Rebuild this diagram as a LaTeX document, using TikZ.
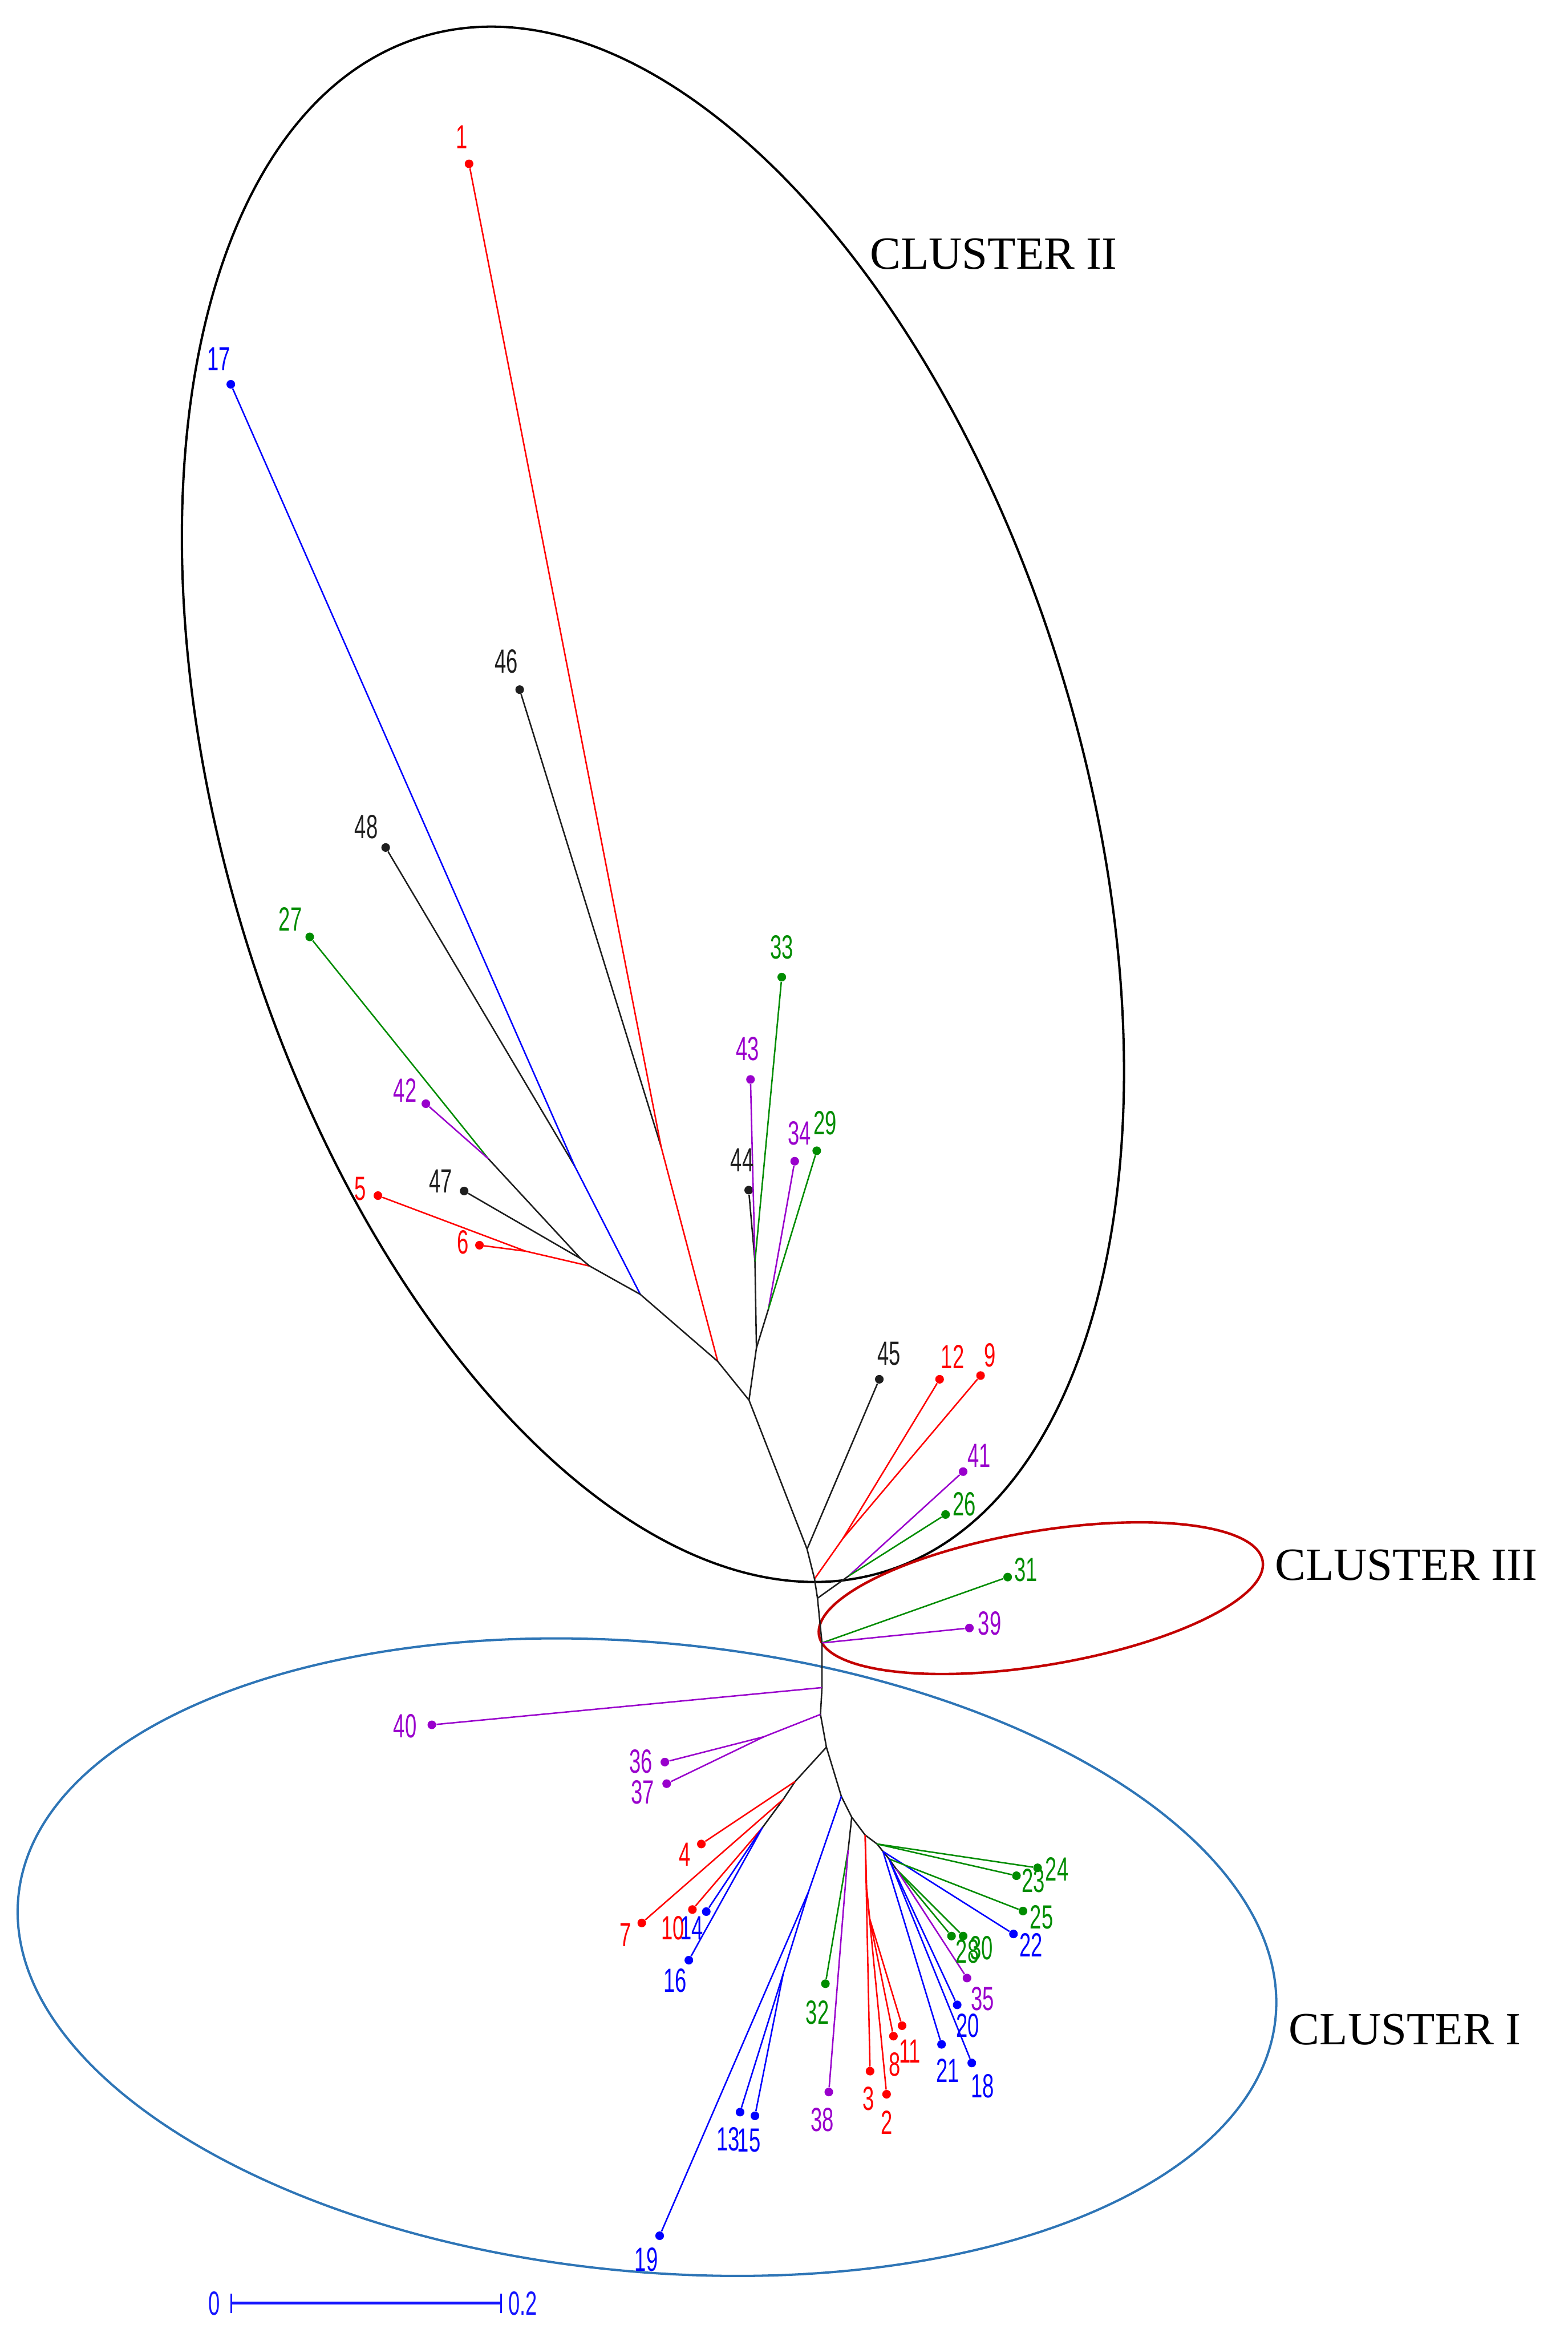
\documentclass[tikz,border=0pt]{standalone}
\usepackage{fontspec}
\newfontfamily\labfont[FakeStretch=0.62]{Liberation Sans}
\newfontfamily\clfont{Liberation Serif}
\definecolor{cR}{RGB}{255,0,0}
\definecolor{cB}{RGB}{0,0,255}
\definecolor{cG}{RGB}{0,140,0}
\definecolor{cP}{RGB}{153,0,204}
\definecolor{cK}{RGB}{30,30,30}
\definecolor{ellK}{RGB}{0,0,0}
\definecolor{ellR}{RGB}{195,0,0}
\definecolor{ellB}{RGB}{46,117,182}
\definecolor{sbar}{RGB}{20,20,255}
\tikzset{
  br/.style={line width=0.7pt},
  tip/.style={circle, inner sep=0pt, minimum size=0.145cm},
  lab/.style={inner sep=0pt, font={\labfont\fontsize{16pt}{18pt}\selectfont}},
  cl/.style={inner sep=0pt, anchor=base west, font={\clfont\fontsize{22pt}{24pt}\selectfont}},
}
\begin{document}
\begin{tikzpicture}[x=0.025cm, y=-0.025cm]
\useasboundingbox (0,0) rectangle (1053,1569);

% ---------- cluster ellipses ----------
\coordinate (cII) at (438.5,540);
\coordinate (cIII) at (699,1073);
\coordinate (cI) at (434.5,1314);
\draw[ellK, line width=1.1pt, rotate around={16.7:(cII)}] (cII) ellipse [x radius=7.2cm, y radius=13.45cm];
\draw[ellR, line width=1.2pt, rotate around={9.5:(cIII)}] (cIII) ellipse [x radius=3.775cm, y radius=1.125cm];
\draw[ellB, line width=1.1pt, rotate around={-5.5:(cI)}] (cI) ellipse [x radius=10.6cm, y radius=5.275cm];

\node[cl] (lII) at (584,180.6) {CLUSTER II};
\node[cl] (lIII) at (856,1061) {CLUSTER III};
\node[cl] (lI) at (865.4,1372.6) {CLUSTER I};

% ---------- tips ----------
\node[tip, fill=cR] (t1) at (315,110) {};
\node[tip, fill=cB] (t17) at (155,258) {};
\node[tip, fill=cK] (t46) at (349,463) {};
\node[tip, fill=cK] (t48) at (259,569) {};
\node[tip, fill=cG] (t27) at (208,629) {};
\node[tip, fill=cP] (t42) at (286,741) {};
\node[tip, fill=cK] (t47) at (311.7,799.6) {};
\node[tip, fill=cR] (t5) at (253.8,802.7) {};
\node[tip, fill=cR] (t6) at (322,836) {};
\node[tip, fill=cK] (t44) at (502.8,799) {};
\node[tip, fill=cP] (t43) at (504,724.7) {};
\node[tip, fill=cG] (t33) at (525,656) {};
\node[tip, fill=cP] (t34) at (533.7,779.6) {};
\node[tip, fill=cG] (t29) at (548.5,772.6) {};
\node[tip, fill=cK] (t45) at (590.5,926) {};
\node[tip, fill=cR] (t12) at (631,926) {};
\node[tip, fill=cR] (t9) at (658.5,923.5) {};
\node[tip, fill=cP] (t41) at (646.8,988) {};
\node[tip, fill=cG] (t26) at (635,1016.8) {};
\node[tip, fill=cG] (t31) at (676.7,1058.8) {};
\node[tip, fill=cP] (t39) at (651,1093) {};
\node[tip, fill=cP] (t40) at (290,1158) {};
\node[tip, fill=cP] (t36) at (446.5,1183) {};
\node[tip, fill=cP] (t37) at (447.7,1197.5) {};
\node[tip, fill=cR] (t4) at (471,1238) {};
\node[tip, fill=cR] (t7) at (431,1291) {};
\node[tip, fill=cR] (t10) at (465,1282) {};
\node[tip, fill=cB] (t14) at (474.3,1283.4) {};
\node[tip, fill=cB] (t16) at (462.6,1316) {};
\node[tip, fill=cB] (t13) at (497,1418) {};
\node[tip, fill=cB] (t15) at (507,1420.5) {};
\node[tip, fill=cB] (t19) at (443,1501) {};
\node[tip, fill=cG] (t32) at (554.3,1331.8) {};
\node[tip, fill=cP] (t38) at (556.6,1404.5) {};
\node[tip, fill=cR] (t3) at (584.3,1390.5) {};
\node[tip, fill=cR] (t2) at (595.4,1406) {};
\node[tip, fill=cR] (t8) at (600,1367) {};
\node[tip, fill=cR] (t11) at (605.8,1360) {};
\node[tip, fill=cB] (t21) at (632.3,1372.5) {};
\node[tip, fill=cB] (t18) at (652.6,1385) {};
\node[tip, fill=cB] (t20) at (642.8,1346) {};
\node[tip, fill=cP] (t35) at (649.4,1328) {};
\node[tip, fill=cG] (t28) at (639,1299.8) {};
\node[tip, fill=cG] (t30) at (646.8,1299.8) {};
\node[tip, fill=cB] (t22) at (680.6,1298.4) {};
\node[tip, fill=cG] (t25) at (687,1283) {};
\node[tip, fill=cG] (t23) at (682.6,1259.3) {};
\node[tip, fill=cG] (t24) at (696.8,1254) {};

% ---------- internal nodes ----------
\coordinate (nA) at (328,778);
\coordinate (nB) at (390,845);
\coordinate (nC) at (353,840);
\coordinate (nD) at (396,850);
\coordinate (nE) at (386,783);
\coordinate (nF) at (430,869);
\coordinate (nG) at (444,770);
\coordinate (nH) at (482,914);
\coordinate (nI) at (507,847);
\coordinate (nJ) at (516,879);
\coordinate (nK) at (508,905);
\coordinate (nU) at (503,940);
\coordinate (n45) at (542,1040);
\coordinate (nL) at (566,1033);
\coordinate (n129) at (547,1060);
\coordinate (nM) at (570,1058);
\coordinate (n4126) at (549,1073);
\coordinate (n3139) at (552,1103);
\coordinate (n40) at (552,1133);
\coordinate (n3637) at (551,1151);
\coordinate (nN) at (513,1166);
\coordinate (nKt) at (555,1173);
\coordinate (nK1) at (534,1196);
\coordinate (nK1b) at (526,1208);
\coordinate (nK2) at (512,1227);
\coordinate (nB1) at (565,1206);
\coordinate (nB2) at (543,1270);
\coordinate (nB3) at (526,1325);
\coordinate (n3238t) at (572,1220);
\coordinate (n3238) at (569.6,1242);
\coordinate (nR1) at (581,1232);
\coordinate (nR2) at (582,1268);
\coordinate (nR3) at (584,1288);
\coordinate (nT1) at (589,1238);
\coordinate (nT2) at (593,1243);
\coordinate (nT3) at (597,1248);
\coordinate (nT4) at (602,1255);

% ---------- branches: cluster II ----------
\begin{scope}[br]
\draw[cG] (t27) -- (nA);
\draw[cP] (t42) -- (nA);
\draw[cK] (nA) -- (nB);
\draw[cK] (t47) -- (nB);
\draw[cR] (t5) -- (nC);
\draw[cR] (t6) -- (nC);
\draw[cR] (nC) -- (nD);
\draw[cK] (nB) -- (nD);
\draw[cK] (t48) -- (nE);
\draw[cB] (t17) -- (nE);
\draw[cB] (nE) -- (nF);
\draw[cK] (nD) -- (nF);
\draw[cK] (t46) -- (nG);
\draw[cR] (t1) -- (nG);
\draw[cR] (nG) -- (nH);
\draw[cK] (nF) -- (nH);
\draw[cK] (t44) -- (nI);
\draw[cP] (t43) -- (nI);
\draw[cG] (t33) -- (nI);
\draw[cP] (t34) -- (nJ);
\draw[cG] (t29) -- (nJ);
\draw[cK] (nI) -- (nK);
\draw[cK] (nJ) -- (nK);
\draw[cK] (nH) -- (nU);
\draw[cK] (nK) -- (nU);
\draw[cK] (nU) -- (n45);
\draw[cK] (t45) -- (n45);
\draw[cR] (t12) -- (nL);
\draw[cR] (t9) -- (nL);
\draw[cR] (nL) -- (n129);
\draw[cK] (n45) -- (n129);
\draw[cP] (t41) -- (nM);
\draw[cG] (t26) -- (nM);
\draw[cK] (nM) -- (n4126);
\draw[cK] (n129) -- (n4126);
\draw[cK] (n4126) -- (n3139);
\draw[cG] (t31) -- (n3139);
\draw[cP] (t39) -- (n3139);
% ---------- cluster I ----------
\draw[cK] (n3139) -- (n40) -- (n3637) -- (nKt) -- (nB1) -- (n3238t) -- (nR1) -- (nT1) -- (nT2) -- (nT3) -- (nT4);
\draw[cP] (t40) -- (n40);
\draw[cP] (n3637) -- (nN);
\draw[cP] (t36) -- (nN);
\draw[cP] (t37) -- (nN);
\draw[cK] (nKt) -- (nK1) -- (nK1b) -- (nK2);
\draw[cR] (nK1) -- (t4);
\draw[cR] (nK1b) -- (t7);
\draw[cR] (nK2) -- (t10);
\draw[cB] (nK2) -- (t14);
\draw[cB] (nK2) -- (t16);
\draw[cB] (nB1) -- (nB2) -- (t19);
\draw[cB] (nB2) -- (nB3) -- (t13);
\draw[cB] (nB3) -- (t15);
\draw[cK] (n3238t) -- (n3238);
\draw[cG] (n3238) -- (t32);
\draw[cP] (n3238) -- (t38);
\draw[cR] (nR1) -- (t3);
\draw[cR] (nR1) -- (nR2) -- (t2);
\draw[cR] (nR2) -- (nR3) -- (t8);
\draw[cR] (nR3) -- (t11);
\draw[cG] (nT1) -- (t23);
\draw[cG] (nT1) -- (t24);
\draw[cB] (nT2) -- (t22);
\draw[cB] (nT2) -- (t21);
\draw[cG] (nT3) -- (t25);
\draw[cB] (nT3) -- (t20);
\draw[cB] (nT3) -- (t18);
\draw[cG] (nT4) -- (t28);
\draw[cG] (nT4) -- (t30);
\draw[cP] (nT4) -- (t35);
\end{scope}

% ---------- labels ----------
\node[lab, text=cR] (l1) at (310,92) {1};
\node[lab, text=cB] (l17) at (147,241) {17};
\node[lab, text=cK] (l46) at (340,444) {46};
\node[lab, text=cK] (l48) at (246,555) {48};
\node[lab, text=cG] (l27) at (195,617) {27};
\node[lab, text=cP] (l42) at (272,732) {42};
\node[lab, text=cK] (l47) at (296,793) {47};
\node[lab, text=cR] (l5) at (242,798) {5};
\node[lab, text=cR] (l6) at (311,834) {6};
\node[lab, text=cK] (l44) at (498.4,779) {44};
\node[lab, text=cP] (l43) at (502,704) {43};
\node[lab, text=cG] (l33) at (525,636) {33};
\node[lab, text=cP] (l34) at (536.8,761) {34};
\node[lab, text=cG] (l29) at (554,754) {29};
\node[lab, text=cK] (l45) at (597,909) {45};
\node[lab, text=cR] (l12) at (639.7,911) {12};
\node[lab, text=cR] (l9) at (664.7,910) {9};
\node[lab, text=cP] (l41) at (657.5,977.4) {41};
\node[lab, text=cG] (l26) at (647.7,1009.7) {26};
\node[lab, text=cG] (l31) at (689,1054) {31};
\node[lab, text=cP] (l39) at (664.6,1090) {39};
\node[lab, text=cP] (l40) at (272,1159) {40};
\node[lab, text=cP] (l36) at (430.4,1182.5) {36};
\node[lab, text=cP] (l37) at (431.6,1203.4) {37};
\node[lab, text=cR] (l4) at (460,1245) {4};
\node[lab, text=cR] (l7) at (420,1299) {7};
\node[lab, text=cR] (l10) at (452,1294.5) {10};
\node[lab, text=cB] (l14) at (464.4,1294.5) {14};
\node[lab, text=cB] (l16) at (453.3,1329.5) {16};
\node[lab, text=cB] (l13) at (489,1436) {13};
\node[lab, text=cB] (l15) at (503,1437) {15};
\node[lab, text=cB] (l19) at (434,1517) {19};
\node[lab, text=cG] (l32) at (549,1351) {32};
\node[lab, text=cP] (l38) at (552.3,1423) {38};
\node[lab, text=cR] (l3) at (583.2,1409) {3};
\node[lab, text=cR] (l2) at (595.5,1425) {2};
\node[lab, text=cR] (l8) at (600.8,1386) {8};
\node[lab, text=cR] (l11) at (611,1377) {11};
\node[lab, text=cB] (l21) at (636.4,1390) {21};
\node[lab, text=cB] (l18) at (659.8,1400.7) {18};
\node[lab, text=cB] (l20) at (650,1360) {20};
\node[lab, text=cP] (l35) at (659.8,1341.8) {35};
\node[lab, text=cG] (l28) at (649.7,1310) {28};
\node[lab, text=cG] (l30) at (659,1308) {30};
\node[lab, text=cB] (l22) at (692.3,1306) {22};
\node[lab, text=cG] (l25) at (699.5,1287) {25};
\node[lab, text=cG] (l23) at (694,1262.7) {23};
\node[lab, text=cG] (l24) at (709.8,1255) {24};

% ---------- scale bar ----------
\coordinate (sb0) at (155.4,1546.3);
\coordinate (sb1) at (336.4,1546.3);
\draw[sbar, line width=1.3pt] (sb0) -- (sb1);
\draw[sbar, line width=0.8pt] ([yshift=0.16cm]sb0) -- ([yshift=-0.16cm]sb0);
\draw[sbar, line width=0.8pt] ([yshift=0.16cm]sb1) -- ([yshift=-0.16cm]sb1);
\node[lab, text=sbar] (s0) at (144,1546.5) {0};
\node[lab, text=sbar] (s02) at (351,1546.5) {0.2};
\end{tikzpicture}
\end{document}
